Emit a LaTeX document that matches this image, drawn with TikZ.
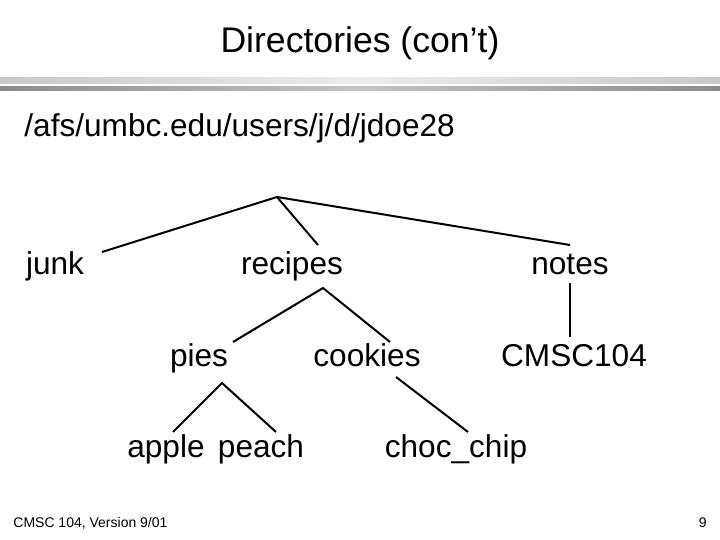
\documentclass[tikz,border=0pt]{standalone}
\usepackage{fontspec}
\setmainfont{Liberation Sans}
\usepackage{xcolor}
\definecolor{ink}{HTML}{000000}
\definecolor{ruleLight}{HTML}{C8C8C8}
\definecolor{ruleLightMid}{HTML}{ECECEC}
\definecolor{ruleDark}{HTML}{8C8C8C}
\definecolor{ruleDarkMid}{HTML}{C4C4C4}

\begin{document}
\begin{tikzpicture}[
    x=0.5pt, y=-0.5pt,
    title/.style={
        inner sep=0pt,
        anchor=base,
        text=ink,
        font=\fontsize{17.8pt}{21pt}\selectfont
    },
    dirname/.style={
        inner sep=0pt,
        anchor=base,
        text=ink,
        font=\fontsize{15.8pt}{19pt}\selectfont
    },
    footer/.style={
        inner sep=0pt,
        text=ink,
        font=\fontsize{7pt}{8pt}\selectfont
    },
    branch/.style={draw=ink, line width=1pt}
]

% Page frame.
\useasboundingbox (0,0) rectangle (720,540);
\fill[white] (0,0) rectangle (720,540);

% Heading and double rule.
\node[title] (heading) at (360,53) {Directories (con’t)};
\shade[left color=ruleLight, right color=ruleLight, middle color=ruleLightMid] (0,78) rectangle (720,84);
\shade[left color=ruleDark, right color=ruleDark, middle color=ruleDarkMid] (0,87) rectangle (720,91);

\node[dirname, anchor=base west] (home) at (24,137) {/afs/umbc.edu/users/j/d/jdoe28};

% Directory names.
\node[dirname] (junk) at (55,275) {junk};
\node[dirname] (recipes) at (292,275) {recipes};
\node[dirname] (notes) at (570,275) {notes};
\node[dirname] (pies) at (199,367) {pies};
\node[dirname] (cookies) at (367,367) {cookies};
\node[dirname] (cmsc) at (574,367) {CMSC104};
\node[dirname] (apple) at (166,458) {apple};
\node[dirname] (peach) at (261,458) {peach};
\node[dirname] (chocchip) at (456,458) {choc\_chip};

% Branch points and line ends.
\coordinate (root) at (277,197);
\coordinate (junkIn) at (102,252);
\coordinate (recipesIn) at (318,245);
\coordinate (notesIn) at (570,245);
\coordinate (recipesOut) at (323,288);
\coordinate (piesIn) at (233,342);
\coordinate (cookiesIn) at (390,342);
\coordinate (notesOut) at (570,283);
\coordinate (cmscIn) at (570,337);
\coordinate (piesOut) at (222,383);
\coordinate (appleIn) at (173,432);
\coordinate (peachIn) at (276,432);
\coordinate (cookiesOut) at (396,377);
\coordinate (chocIn) at (468,432);

\draw[branch] (root) -- (junkIn);
\draw[branch] (root) -- (recipesIn);
\draw[branch] (root) -- (notesIn);
\draw[branch] (piesIn) -- (recipesOut) -- (cookiesIn);
\draw[branch] (notesOut) -- (cmscIn);
\draw[branch] (appleIn) -- (piesOut) -- (peachIn);
\draw[branch] (cookiesOut) -- (chocIn);

% Footer.
\node[footer, anchor=base west] (version) at (13,528) {CMSC 104, Version 9/01};
\node[footer, anchor=base east] (pagenum) at (707,528) {9};

\end{tikzpicture}
\end{document}
